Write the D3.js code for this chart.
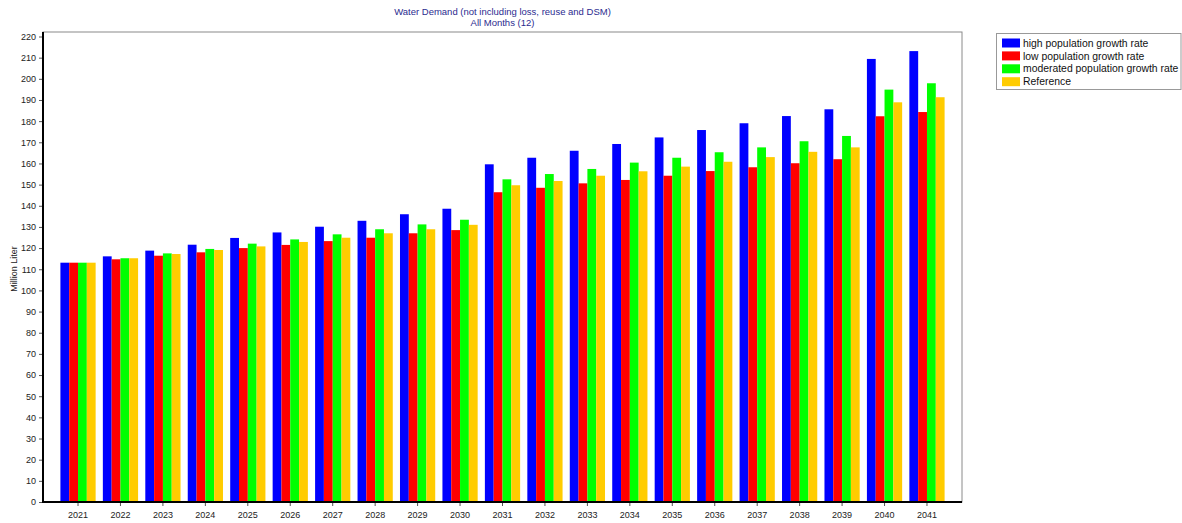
<!DOCTYPE html>
<html><head><meta charset="utf-8">
<script src="https://cdn.jsdelivr.net/npm/d3@7/dist/d3.min.js"></script>
<style>body{margin:0;background:#fff;} svg{display:block;font-family:"Liberation Sans",Arial,sans-serif;}</style>
</head><body><svg id="c" width="1182" height="523"></svg>
<script>
const years = ["2021","2022","2023","2024","2025","2026","2027","2028","2029","2030","2031","2032","2033","2034","2035","2036","2037","2038","2039","2040","2041"];
const seriesNames = ["high population growth rate","low population growth rate","moderated population growth rate","Reference"];
const highGrowth = [113.1,116.1,118.8,121.6,124.8,127.4,130.1,132.9,136.0,138.6,159.6,162.7,166.0,169.2,172.3,175.8,179.0,182.4,185.6,209.4,213.1];
const lowGrowth = [113.1,114.7,116.4,118.0,120.0,121.5,123.3,124.9,127.0,128.5,146.4,148.5,150.6,152.2,154.2,156.4,158.2,160.1,162.0,182.3,184.3];
const moderatedGrowth = [113.1,115.2,117.5,119.6,122.1,124.1,126.5,128.9,131.2,133.4,152.5,155.0,157.4,160.4,162.7,165.3,167.6,170.5,173.0,194.9,197.9];
const reference = [113.1,115.2,117.2,119.1,120.8,122.9,124.9,127.0,128.9,131.0,149.7,151.7,154.2,156.3,158.5,160.8,163.0,165.5,167.6,188.9,191.3];
const yTicks = d3.range(0, 221, 10);
const colors = ["#0000ff","#ff0000","#00ff00","#ffcc00"];
const titleLines = ["Water Demand (not including loss, reuse and DSM)","All Months (12)"];
const yLabel = "Million Liter";

const allSeries = [highGrowth, lowGrowth, moderatedGrowth, reference];
const svg = d3.select("#c");
const L = 43, R = 962, T = 32, B = 502;

const x0 = d3.scaleBand().domain(years).range([L, R]).paddingInner(0.17).paddingOuter(0.41);
const x1 = d3.scaleBand().domain(d3.range(4)).range([0, x0.bandwidth()]);
const y = d3.scaleLinear().domain([0, 220]).range([B, 36.5]);

// frame
svg.append("rect").attr("x", L).attr("y", T).attr("width", R - L).attr("height", B - T)
  .attr("fill", "#fff").attr("stroke", "#8a8a8a").attr("stroke-width", 1);

// bars
const g = svg.append("g");
years.forEach((yr, i) => {
  allSeries.forEach((s, j) => {
    g.append("rect")
      .attr("x", x0(yr) + x1(j))
      .attr("y", y(s[i]))
      .attr("width", x1.bandwidth())
      .attr("height", B - y(s[i]))
      .attr("fill", colors[j]);
  });
});

// axes
const yAxis = d3.axisLeft(y).tickValues(yTicks).tickSize(4).tickPadding(3);
const ya = svg.append("g").attr("transform", `translate(${L},0)`).call(yAxis);
ya.select(".domain").remove();
ya.selectAll(".tick line").attr("stroke", "#555");
ya.selectAll("text").attr("font-size", "9px").attr("fill", "#222");

const xAxis = d3.axisBottom(x0).tickSize(4).tickPadding(6);
const xa = svg.append("g").attr("transform", `translate(0,${B})`).call(xAxis);
xa.select(".domain").remove();
xa.selectAll(".tick line").attr("stroke", "#555");
xa.selectAll("text").attr("font-size", "9px").attr("fill", "#222");

// thick left and bottom lines
svg.append("line").attr("x1", L).attr("x2", L).attr("y1", T).attr("y2", B + 1).attr("stroke", "#000").attr("stroke-width", 2);
svg.append("line").attr("x1", L - 1).attr("x2", R).attr("y1", B).attr("y2", B).attr("stroke", "#000").attr("stroke-width", 2);

// title
const cx = (L + R) / 2;
titleLines.forEach((t, i) => {
  svg.append("text").attr("x", cx).attr("y", 15 + i * 11).attr("text-anchor", "middle")
    .attr("font-size", "9.5px").attr("fill", "#2b2b8f").text(t);
});

// y label
svg.append("text").attr("transform", `translate(17,${(T + B) / 2 + 2}) rotate(-90)`)
  .attr("text-anchor", "middle").attr("font-size", "9px").attr("fill", "#222").text(yLabel);

// legend
const lg = svg.append("g");
lg.append("rect").attr("x", 996.5).attr("y", 33.5).attr("width", 184.5).attr("height", 56)
  .attr("fill", "#fff").attr("stroke", "#999");
seriesNames.forEach((n, j) => {
  const cy = 43 + j * 12.9;
  lg.append("rect").attr("x", 1002).attr("y", cy - 4.5).attr("width", 18).attr("height", 9).attr("fill", colors[j]);
  lg.append("text").attr("x", 1023).attr("y", cy + 3.6).attr("font-size", "10.4px").attr("fill", "#111").text(n);
});
</script>
</body></html>
